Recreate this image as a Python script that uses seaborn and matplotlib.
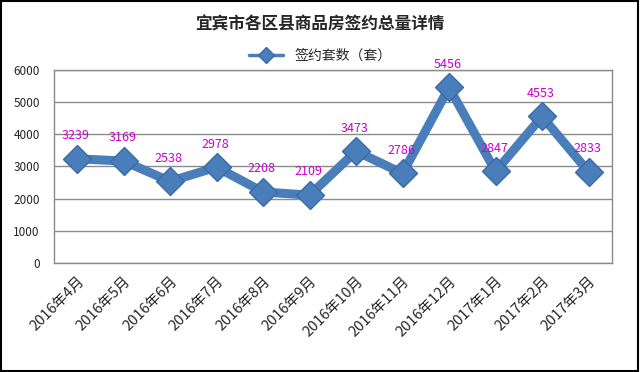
import matplotlib
matplotlib.use("Agg")
import matplotlib.pyplot as plt
import seaborn as sns
import pandas as pd
from matplotlib.patches import Rectangle

months = ["2016年4月", "2016年5月", "2016年6月", "2016年7月", "2016年8月", "2016年9月",
          "2016年10月", "2016年11月", "2016年12月", "2017年1月", "2017年2月", "2017年3月"]
values = [3239, 3169, 2538, 2978, 2208, 2109, 3473, 2786, 5456, 2847, 4553, 2833]
yticks = [0, 1000, 2000, 3000, 4000, 5000, 6000]
series_name = "签约套数（套）"
title = "宜宾市各区县商品房签约总量详情"

sns.set_theme(style="white")
plt.rcParams['font.family'] = ['Noto Sans CJK SC', 'DejaVu Sans']

df = pd.DataFrame({"月份": months, "套数": values})
df["pos"] = range(len(months))

fig = plt.figure(figsize=(6.4, 3.72), dpi=100)
ax = fig.add_axes([0.084, 0.293, 0.872, 0.519])

line_color = "#4a7ebb"
sns.lineplot(data=df, x="pos", y="套数", ax=ax, color=line_color, linewidth=6.5,
             marker="D", markersize=14.5, markerfacecolor=line_color,
             markeredgecolor="#3a6aa5", markeredgewidth=1, label=series_name,
             legend=False, zorder=3)

for i, v in enumerate(values):
    ax.annotate(str(v), (i, v), xytext=(-1, 12), textcoords="offset points",
                ha="center", va="bottom", color="#cc00cc", fontsize=9, zorder=4)

ax.set_xlim(-0.5, len(months) - 0.5)
ax.set_ylim(0, 6000)
ax.set_yticks(yticks)
ax.set_yticklabels([str(t) for t in yticks], fontsize=8.5)
ax.set_xticks(range(len(months)))
ax.set_xticklabels(months, rotation=45, ha="right", rotation_mode="anchor", fontsize=10.5)
ax.tick_params(axis="x", length=0, pad=8)
ax.tick_params(axis="y", length=0, pad=10)
ax.yaxis.grid(True, color="#8c8c8c", linewidth=1)
ax.set_xlabel("")
ax.set_ylabel("")
for s in ax.spines.values():
    s.set_color("#8c8c8c")
    s.set_linewidth(1)

fig.text(0.5, 0.935, title, ha="center", va="center", fontsize=12, fontweight="bold")
leg = fig.legend(handles=ax.get_lines()[:1], labels=[series_name], loc="center",
                 bbox_to_anchor=(0.5, 0.85), frameon=False, fontsize=10,
                 handlelength=2.5, markerscale=0.55)
leg.legend_handles[0].set_linewidth(2.5)

fig.patches.append(Rectangle((0.002, 0.003), 0.995, 0.993, transform=fig.transFigure,
                             fill=False, edgecolor="black", linewidth=1.5))

fig.savefig("out.png", dpi=100)
